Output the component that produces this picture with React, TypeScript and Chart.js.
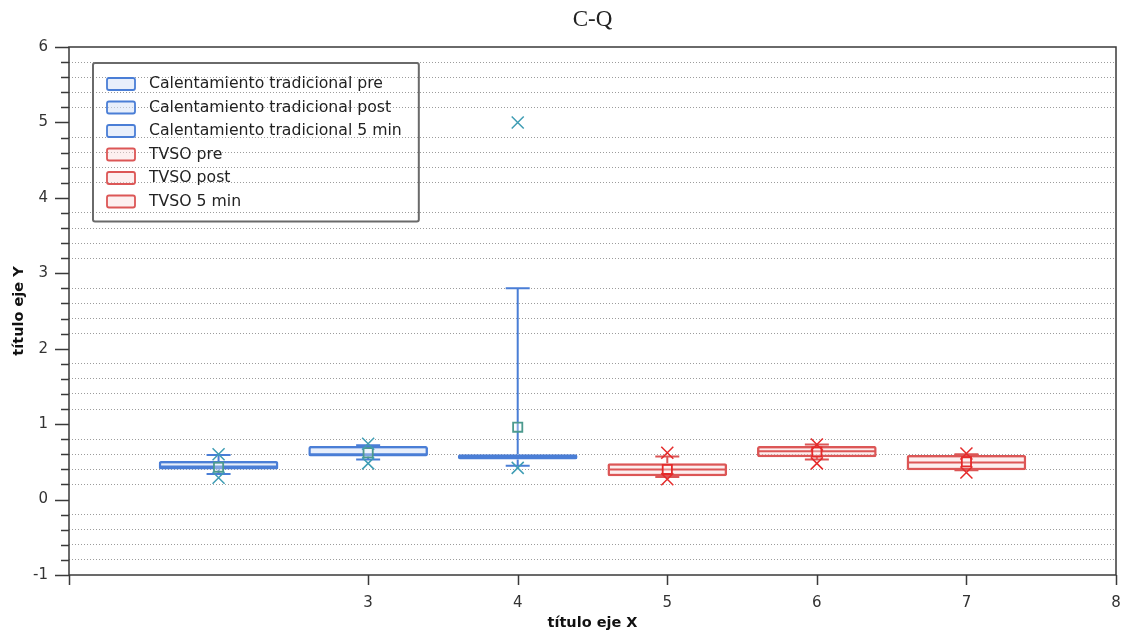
import React, { useEffect, useRef } from 'react';
import { Chart, registerables } from 'chart.js';

Chart.register(...registerables);

// ---------- data ----------
const chartTitle = 'C-Q';
const xAxisTitle = 'título eje X';
const yAxisTitle = 'título eje Y';

const seriesNames = [
  'Calentamiento tradicional pre',
  'Calentamiento tradicional post',
  'Calentamiento tradicional 5 min',
  'TVSO pre',
  'TVSO post',
  'TVSO 5 min',
];
const boxPositions = [2, 3, 4, 5, 6, 7];
const q1Values = [0.40, 0.57, 0.53, 0.31, 0.56, 0.39];
const q3Values = [0.51, 0.71, 0.60, 0.48, 0.71, 0.59];
const medianValues = [0.44, 0.60, 0.57, 0.40, 0.64, 0.49];
const meanValues = [0.43, 0.62, 0.96, 0.40, 0.63, 0.50];
const whiskerLowValues = [0.34, 0.53, 0.45, 0.30, 0.53, 0.39];
const whiskerHighValues = [0.59, 0.72, 2.80, 0.57, 0.73, 0.60];
const minValues = [0.29, 0.48, 0.42, 0.27, 0.48, 0.36];
const maxValues = [0.60, 0.74, 5.00, 0.62, 0.73, 0.61];

const xTickValues = [1, 2, 3, 4, 5, 6, 7, 8];
const xTickLabels = ['', '', '3', '4', '5', '6', '7', '8'];
const xTickMarkValues = [1, 3, 4, 5, 6, 7, 8];
const yTickValues = [-1, 0, 1, 2, 3, 4, 5, 6];
const yTickLabels = ['-1', '0', '1', '2', '3', '4', '5', '6'];

// ---------- styles ----------
const BLUE = '#4a7ed6';
const BLUE_FILL = 'rgba(214,226,248,0.55)';
const BLUE_MARK = '#3f9db4';
const BLUE_MEAN = '#4c9a8e';
const RED = '#dc5656';
const RED_FILL = 'rgba(250,220,220,0.45)';
const RED_MARK = '#e52a2a';
const seriesGroup = [0, 0, 0, 1, 1, 1];
const boxColor = (i: number) => (seriesGroup[i] === 0 ? BLUE : RED);
const boxFill = (i: number) => (seriesGroup[i] === 0 ? BLUE_FILL : RED_FILL);
const markColor = (i: number) => (seriesGroup[i] === 0 ? BLUE_MARK : RED_MARK);
const meanColor = (i: number) => (seriesGroup[i] === 0 ? BLUE_MEAN : RED_MARK);

const isInt = (v: number) => Math.abs(v - Math.round(v)) < 1e-6;

const boxExtrasPlugin = {
  id: 'boxExtras',
  afterDatasetDraw(chart: any, args: any) {
    const i = args.index;
    if (i >= seriesNames.length) return;
    const el = chart.getDatasetMeta(i).data[0];
    if (!el) return;
    const y = chart.scales.y;
    const ctx = chart.ctx;
    const cx = el.x;
    const half = el.width / 2;
    const cap = 12;
    ctx.save();
    ctx.strokeStyle = boxColor(i);
    ctx.lineWidth = 2;
    const ym = y.getPixelForValue(medianValues[i]);
    ctx.beginPath();
    ctx.moveTo(cx - half + 1, ym);
    ctx.lineTo(cx + half - 1, ym);
    ctx.stroke();
    const yq1 = y.getPixelForValue(q1Values[i]);
    const yq3 = y.getPixelForValue(q3Values[i]);
    const ylo = y.getPixelForValue(whiskerLowValues[i]);
    const yhi = y.getPixelForValue(whiskerHighValues[i]);
    ctx.beginPath();
    ctx.moveTo(cx, yq3);
    ctx.lineTo(cx, yhi);
    ctx.moveTo(cx - cap, yhi);
    ctx.lineTo(cx + cap, yhi);
    ctx.moveTo(cx, yq1);
    ctx.lineTo(cx, ylo);
    ctx.moveTo(cx - cap, ylo);
    ctx.lineTo(cx + cap, ylo);
    ctx.stroke();
    ctx.restore();
  },
};

const framePlugin = {
  id: 'frameTicks',
  afterDraw(chart: any) {
    const { ctx, chartArea } = chart;
    const xs = chart.scales.x;
    const ys = chart.scales.y;
    ctx.save();
    ctx.strokeStyle = '#3a3a3a';
    ctx.lineWidth = 1.5;
    ctx.strokeRect(chartArea.left, chartArea.top, chartArea.right - chartArea.left, chartArea.bottom - chartArea.top);
    ctx.beginPath();
    ys.ticks.forEach((t: any) => {
      const p = Math.round(ys.getPixelForValue(t.value)) + 0.5;
      const len = isInt(t.value) ? 14 : 8;
      ctx.moveTo(chartArea.left - len, p);
      ctx.lineTo(chartArea.left, p);
    });
    xTickMarkValues.forEach((v) => {
      const p = Math.round(xs.getPixelForValue(v)) + 0.5;
      ctx.moveTo(p, chartArea.bottom);
      ctx.lineTo(p, chartArea.bottom + 10);
    });
    ctx.stroke();
    ctx.restore();
  },
};

const legendPlugin = {
  id: 'boxLegend',
  afterDraw(chart: any) {
    const { ctx, chartArea } = chart;
    ctx.save();
    ctx.font = '15.7px "DejaVu Sans"';
    const left = chartArea.left + 24;
    const top = chartArea.top + 16;
    const rowH = 23.5;
    const firstRow = 21;
    const textX = left + 56;
    let maxW = 0;
    seriesNames.forEach((s) => (maxW = Math.max(maxW, ctx.measureText(s).width)));
    const w = textX + maxW + 17 - left;
    const h = firstRow + rowH * (seriesNames.length - 1) + 20;
    ctx.strokeStyle = '#6a6a6a';
    ctx.lineWidth = 2;
    ctx.beginPath();
    ctx.roundRect(left, top, w, h, 2);
    ctx.stroke();
    seriesNames.forEach((s, i) => {
      const cy = top + firstRow + i * rowH;
      ctx.beginPath();
      ctx.roundRect(left + 14, cy - 6, 28, 12, 2);
      ctx.fillStyle = boxFill(i);
      ctx.fill();
      ctx.strokeStyle = boxColor(i);
      ctx.lineWidth = 1.8;
      ctx.stroke();
      ctx.fillStyle = '#222';
      ctx.textBaseline = 'middle';
      ctx.textAlign = 'left';
      ctx.fillText(s, textX, cy);
    });
    ctx.restore();
  },
};

export default function App() {
  const canvasRef = useRef<HTMLCanvasElement | null>(null);

  useEffect(() => {
    const canvas = canvasRef.current;
    if (!canvas) return;

    const boxDatasets = seriesNames.map((name, i) => ({
      type: 'bar' as const,
      label: name,
      data: [{ x: boxPositions[i], y: [q1Values[i], q3Values[i]] }],
      backgroundColor: boxFill(i),
      borderColor: boxColor(i),
      borderWidth: 2.5,
      borderSkipped: false,
      borderRadius: 2,
      grouped: false,
      categoryPercentage: 1,
      barPercentage: 0.8,
      order: 2,
    }));

    const meanDataset = {
      type: 'scatter' as const,
      label: 'mean',
      data: boxPositions.map((x, i) => ({ x, y: meanValues[i] })),
      pointStyle: 'rect',
      pointRadius: 6.5,
      pointBorderWidth: 1.8,
      pointBackgroundColor: 'rgba(255,255,255,0.3)',
      pointBorderColor: boxPositions.map((_, i) => meanColor(i)),
      order: 1,
    };

    const extremeDataset = {
      type: 'scatter' as const,
      label: 'extremes',
      data: [
        ...boxPositions.map((x, i) => ({ x, y: minValues[i] })),
        ...boxPositions.map((x, i) => ({ x, y: maxValues[i] })),
      ],
      pointStyle: 'crossRot',
      pointRadius: 8.5,
      pointBorderWidth: 1.5,
      pointBorderColor: [...boxPositions.map((_, i) => markColor(i)), ...boxPositions.map((_, i) => markColor(i))],
      order: 0,
    };

    const chart = new Chart(canvas, {
      type: 'bar',
      data: { datasets: [...boxDatasets, meanDataset, extremeDataset] as any },
      options: {
        responsive: false,
        animation: false,
        devicePixelRatio: 1,
        layout: { autoPadding: false, padding: { left: 0, right: 7, top: 0, bottom: 0 } },
        plugins: {
          legend: { display: false },
          tooltip: { enabled: false },
          title: {
            display: true,
            text: chartTitle,
            fullSize: false,
            color: '#222',
            font: { family: '"Liberation Serif"', size: 23, weight: 'normal' },
            padding: { top: 6, bottom: 13.4 },
          },
        },
        scales: {
          x: {
            type: 'linear',
            offset: false,
            min: 1,
            max: 8,
            afterFit: (s: any) => {
              s.height = 58;
              s.paddingLeft = 0;
              s.paddingRight = 0;
            },
            afterBuildTicks: (s: any) => { s.ticks = xTickValues.map((v) => ({ value: v })); },
            ticks: {
              stepSize: 1,
              autoSkip: false,
              maxRotation: 0,
              padding: 19,
              color: '#333',
              font: { family: '"DejaVu Sans"', size: 15 },
              callback: (_v: any, idx: number) => xTickLabels[idx] ?? '',
            },
            grid: { display: true, offset: false, drawOnChartArea: false, drawTicks: false },
            border: { display: false },
            title: {
              display: true,
              text: xAxisTitle,
              color: '#111',
              font: { family: '"DejaVu Sans"', size: 14.5, weight: 'bold' },
              padding: { top: 0, bottom: 1 },
            },
          },
          y: {
            type: 'linear',
            min: -1,
            max: 6,
            afterFit: (s: any) => {
              s.width = 69;
              s.paddingTop = 0;
              s.paddingBottom = 0;
            },
            ticks: {
              stepSize: 0.2,
              autoSkip: false,
              padding: 21,
              color: '#333',
              font: { family: '"DejaVu Sans"', size: 15 },
              callback: (v: any) => {
                const n = Number(v);
                if (!isInt(n)) return '';
                const k = yTickValues.indexOf(Math.round(n));
                return k >= 0 ? yTickLabels[k] : '';
              },
            },
            grid: {
              drawTicks: false,
              lineWidth: 1,
              color: (c: any) => (c.tick && isInt(c.tick.value) ? 'rgba(0,0,0,0)' : '#9c9c9c'),
            },
            border: { display: false, dash: [1, 2] },
            title: {
              display: true,
              text: yAxisTitle,
              color: '#111',
              font: { family: '"DejaVu Sans"', size: 14.5, weight: 'bold' },
              padding: { top: 11, bottom: 0 },
            },
          },
        },
      } as any,
      plugins: [boxExtrasPlugin, framePlugin, legendPlugin],
    });

    return () => chart.destroy();
  }, []);

  return (
    <div style={{ position: 'fixed', left: 0, top: 0, width: 1123, height: 633, background: '#fff' }}>
      <canvas ref={canvasRef} width={1123} height={633} style={{ display: 'block' }} />
    </div>
  );
}
